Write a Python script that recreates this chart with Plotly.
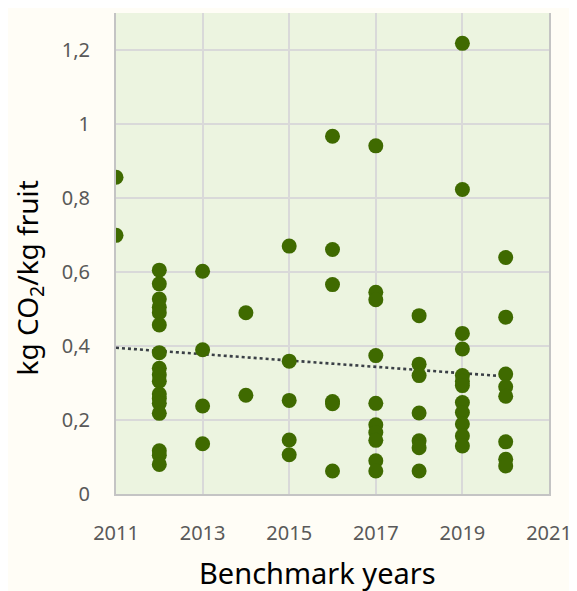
import numpy as np
import plotly.graph_objects as go

years = [2011, 2012, 2013, 2014, 2015, 2016, 2017, 2018, 2019, 2020]
values_by_year = {
    2011: [0.856, 0.699],
    2012: [0.605, 0.568, 0.527, 0.505, 0.49, 0.457, 0.382, 0.34, 0.322, 0.305,
           0.27, 0.258, 0.245, 0.218, 0.117, 0.105, 0.08],
    2013: [0.602, 0.390, 0.238, 0.136],
    2014: [0.490, 0.267],
    2015: [0.670, 0.359, 0.253, 0.146, 0.106],
    2016: [0.967, 0.661, 0.566, 0.25, 0.244, 0.062],
    2017: [0.941, 0.545, 0.525, 0.374, 0.245, 0.187, 0.166, 0.145, 0.09, 0.062],
    2018: [0.482, 0.351, 0.32, 0.219, 0.144, 0.125, 0.062],
    2019: [1.218, 0.823, 0.434, 0.392, 0.32, 0.305, 0.293, 0.247, 0.22, 0.189, 0.157, 0.13],
    2020: [0.639, 0.478, 0.324, 0.29, 0.264, 0.141, 0.094, 0.076],
}
x_ticks = [2011, 2013, 2015, 2017, 2019, 2021]
y_ticks = [0, 0.2, 0.4, 0.6, 0.8, 1.0, 1.2]
x_title = "Benchmark years"
y_title = "kg CO<sub>2</sub>/kg fruit"

xs = [y for y in years for _ in values_by_year[y]]
ys = [v for y in years for v in values_by_year[y]]

slope, intercept = np.polyfit(xs, ys, 1)
tx = [min(years), max(years)]
ty = [slope * t + intercept for t in tx]

fig = go.Figure()
fig.add_trace(go.Scatter(x=tx, y=ty, mode="lines",
                         line=dict(color="#3a3f46", width=2.6, dash="dot"),
                         hoverinfo="skip", showlegend=False))
fig.add_trace(go.Scatter(x=xs, y=ys, mode="markers",
                         marker=dict(color="#3f6a00", size=15, line=dict(width=0)),
                         showlegend=False))

font = "Noto Sans, Open Sans, sans-serif"
# page body has an 8px margin, so the figure is sized to fit the 577x591 window
fig.update_layout(
    width=569, height=583,
    margin=dict(l=108, r=24, t=5, b=97),
    paper_bgcolor="#fffdf6",
    plot_bgcolor="#ecf4e0",
    separators=",.",
    font=dict(family=font, color="#595959", size=20),
    annotations=[
        dict(text=x_title, xref="paper", yref="paper", x=0.4645, y=-0.163,
             xanchor="center", yanchor="middle", showarrow=False,
             font=dict(size=29, color="#000000")),
        dict(text=y_title, xref="paper", yref="paper", x=-0.2, y=0.449,
             xanchor="center", yanchor="middle", showarrow=False, textangle=-90,
             font=dict(size=28, color="#000000")),
    ],
)
fig.update_xaxes(
    range=[2011, 2021], tickvals=x_ticks, ticktext=[str(t) for t in x_ticks],
    showgrid=True, gridcolor="#d9d9d9", gridwidth=1.5,
    showline=True, linecolor="#c4c4c4", linewidth=2,
    zeroline=False, ticks="", ticklabelstandoff=20,
    tickfont=dict(size=20),
)
fig.update_yaxes(
    range=[0, 1.3], tickvals=y_ticks,
    showgrid=True, gridcolor="#d9d9d9", gridwidth=1.5,
    showline=True, linecolor="#c4c4c4", linewidth=2, mirror=True,
    zeroline=False, ticks="", ticklabelstandoff=20,
    tickfont=dict(size=20),
)

fig.write_html("out.html")
